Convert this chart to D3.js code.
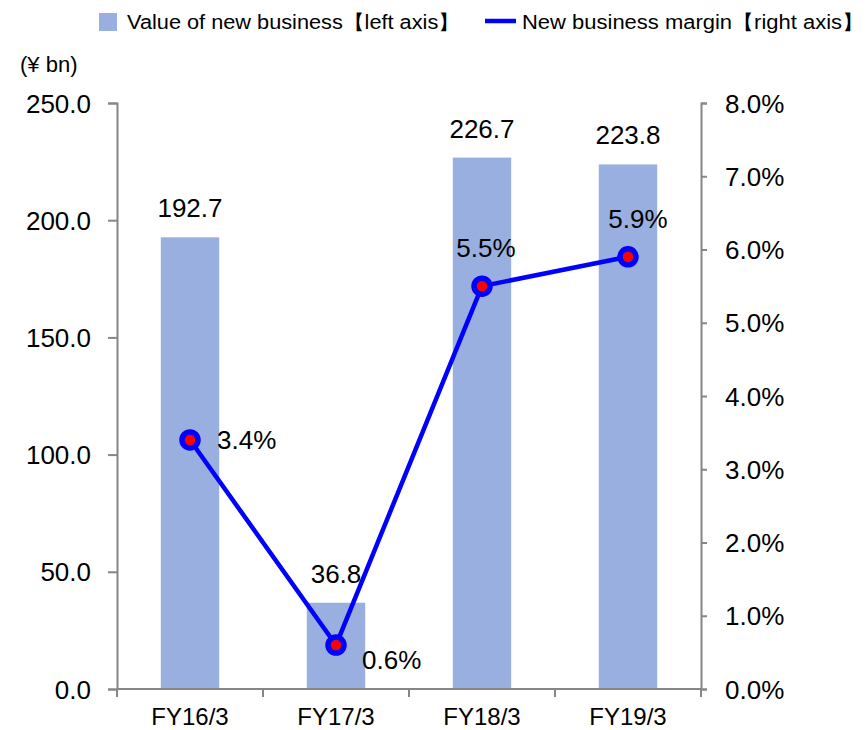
<!DOCTYPE html>
<html>
<head>
<meta charset="utf-8">
<script src="https://cdn.jsdelivr.net/npm/d3@7"></script>
<style>
  html, body { margin: 0; padding: 0; background: #fff; }
  svg { display: block; font-family: "Liberation Sans", Arial, sans-serif; }
</style>
</head>
<body>
<svg id="chart" width="868" height="730"></svg>
<script>
// ---- data ----
const categories = ["FY16/3", "FY17/3", "FY18/3", "FY19/3"];
const valueNewBusiness = [192.7, 36.8, 226.7, 223.8];      // ¥ bn, left axis
const newBusinessMargin = [3.4, 0.6, 5.5, 5.9];            // %, right axis
const leftTicks = [0, 50, 100, 150, 200, 250];
const rightTicks = [0, 1, 2, 3, 4, 5, 6, 7, 8];
const seriesNames = ["Value of new business【left axis】", "New business margin【right axis】"];
const unitLabel = "(¥ bn)";
// label placement for margin labels (layout only)
const marginLabelPos = ["right", "right-low", "above", "above"];

// ---- layout ----
const svg = d3.select("#chart");
const m = { left: 117, right: 868 - 701, top: 103, bottom: 730 - 689 };
const W = 868, H = 730;
const x0 = m.left, x1 = W - m.right, y0 = H - m.bottom, y1 = m.top;

const barColor = "#98afdf";
const lineColor = "#0000ff";
const axisColor = "#868686";

const x = d3.scaleBand().domain(categories).range([x0, x1]).paddingInner(0.6).paddingOuter(0.3);
const yL = d3.scaleLinear().domain([0, 250]).range([y0, y1]);
const yR = d3.scaleLinear().domain([0, 8]).range([y0, y1]);
const xEdges = d3.scaleBand().domain(categories).range([x0, x1]);

// bars
svg.append("g").selectAll("rect").data(valueNewBusiness).join("rect")
  .attr("x", (d, i) => x(categories[i]))
  .attr("width", x.bandwidth())
  .attr("y", d => yL(d))
  .attr("height", d => yL(0) - yL(d))
  .attr("fill", barColor);

// axes
const gL = svg.append("g").attr("transform", `translate(${x0},0)`)
  .call(d3.axisLeft(yL).tickValues(leftTicks).tickFormat(d3.format(".1f")).tickSize(9).tickPadding(17));
const gR = svg.append("g").attr("transform", `translate(${x1},0)`)
  .call(d3.axisRight(yR).tickValues(rightTicks).tickFormat(d => d.toFixed(1) + "%").tickSize(6).tickPadding(18));
[gL, gR].forEach(g => {
  g.select(".domain").attr("stroke", axisColor).attr("stroke-width", 2);
  g.selectAll(".tick line").attr("stroke", axisColor).attr("stroke-width", 2);
  g.selectAll(".tick text").attr("fill", "#000").style("font-size", "26px").attr("dy", "0.35em");
});

// bottom axis: line + ticks at category boundaries
const gB = svg.append("g");
gB.append("line").attr("x1", x0).attr("x2", x1).attr("y1", y0).attr("y2", y0)
  .attr("stroke", axisColor).attr("stroke-width", 2);
const edges = categories.map(c => xEdges(c)).concat([x1]);
gB.selectAll("line.t").data(edges).join("line").attr("class", "t")
  .attr("x1", d => d).attr("x2", d => d).attr("y1", y0).attr("y2", y0 + 8)
  .attr("stroke", axisColor).attr("stroke-width", 2);
gB.selectAll("text").data(categories).join("text")
  .attr("x", d => xEdges(d) + xEdges.bandwidth() / 2)
  .attr("y", y0 + 36)
  .attr("text-anchor", "middle")
  .style("font-size", "24px")
  .text(d => d);

// bar value labels
svg.append("g").selectAll("text").data(valueNewBusiness).join("text")
  .attr("x", (d, i) => x(categories[i]) + x.bandwidth() / 2)
  .attr("y", d => yL(d) - 20)
  .attr("text-anchor", "middle")
  .style("font-size", "26px")
  .text(d => d.toFixed(1));

// margin line
const cx = i => x(categories[i]) + x.bandwidth() / 2;
const line = d3.line().x((d, i) => cx(i)).y(d => yR(d));
svg.append("path").datum(newBusinessMargin).attr("d", line)
  .attr("fill", "none").attr("stroke", lineColor).attr("stroke-width", 4.5).attr("stroke-linejoin", "round");
svg.append("g").selectAll("circle").data(newBusinessMargin).join("circle")
  .attr("cx", (d, i) => cx(i)).attr("cy", d => yR(d)).attr("r", 8)
  .attr("fill", "#ff0000").attr("stroke", lineColor).attr("stroke-width", 5.5);

// margin labels
svg.append("g").selectAll("text").data(newBusinessMargin).join("text")
  .each(function (d, i) {
    const t = d3.select(this);
    const p = marginLabelPos[i];
    if (p === "right") {
      t.attr("x", cx(i) + 27).attr("y", yR(d)).attr("dy", "0.35em").attr("text-anchor", "start");
    } else if (p === "right-low") {
      t.attr("x", cx(i) + 26).attr("y", yR(d) + 15).attr("dy", "0.35em").attr("text-anchor", "start");
    } else {
      t.attr("x", cx(i) + (i === 3 ? 10 : 4)).attr("y", yR(d) - 29).attr("text-anchor", "middle");
    }
  })
  .style("font-size", "26px")
  .text(d => d.toFixed(1) + "%");

// unit label
svg.append("text").attr("x", 20).attr("y", 72).style("font-size", "22px").text(unitLabel);

// legend
const lg = svg.append("g");
lg.append("rect").attr("x", 99).attr("y", 13).attr("width", 18).attr("height", 18).attr("fill", barColor);
lg.append("text").attr("x", 127).attr("y", 29).style("font-size", "20px")
  .attr("textLength", 333).attr("lengthAdjust", "spacingAndGlyphs").text(seriesNames[0]);
lg.append("line").attr("x1", 485).attr("x2", 516).attr("y1", 21).attr("y2", 21)
  .attr("stroke", lineColor).attr("stroke-width", 4.5);
lg.append("text").attr("x", 522).attr("y", 29).style("font-size", "20px")
  .attr("textLength", 342).attr("lengthAdjust", "spacingAndGlyphs").text(seriesNames[1]);
</script>
</body>
</html>
